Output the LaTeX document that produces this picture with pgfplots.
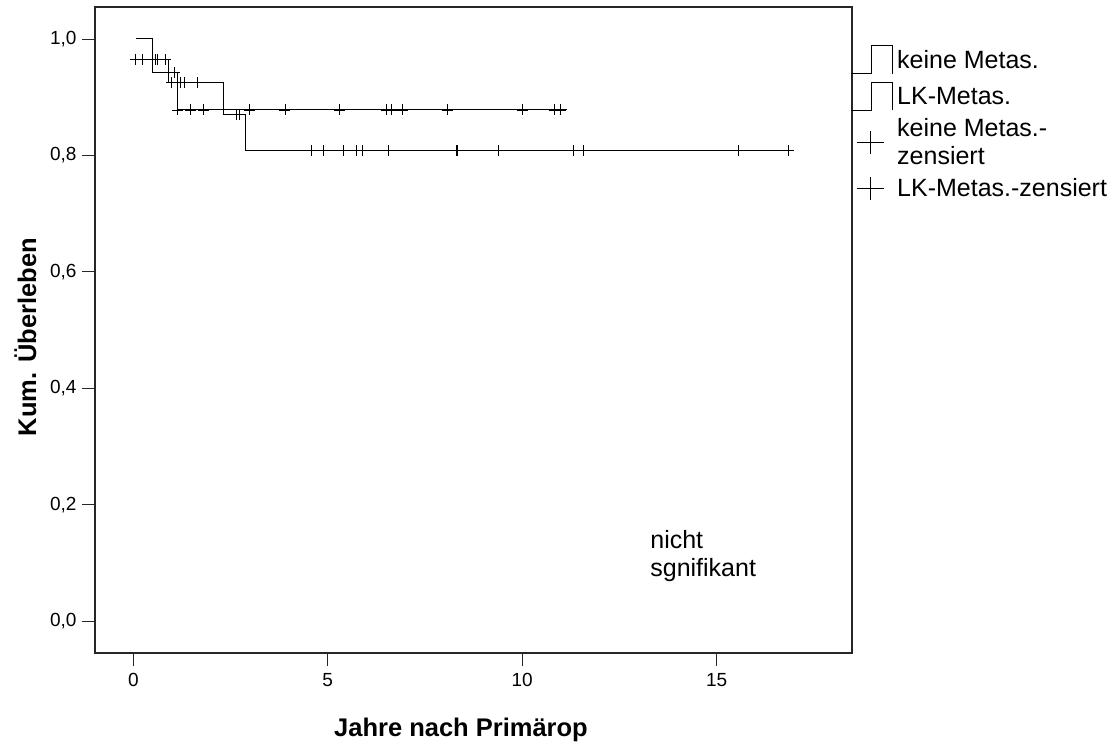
\documentclass[border=0pt]{standalone}
\usepackage{fontspec}
\setmainfont{Liberation Sans}
\usepackage{pgfplots}
\pgfplotsset{compat=1.18}
\begin{document}
\begin{tikzpicture}[x=1pt,y=1pt]
\path[use as bounding box] (0,0) rectangle (1114,746);
\begin{axis}[
  at={(95pt,93pt)}, anchor=south west,
  width=757pt, height=646pt, scale only axis,
  xmin=-0.985, xmax=18.48, ymin=-0.055, ymax=1.055,
  axis line style={line width=1.2pt, black!85},
  xtick={0,5,10,15}, xticklabels={0,5,10,15},
  ytick={0,0.2,0.4,0.6,0.8,1},
  yticklabels={{0,0},{0,2},{0,4},{0,6},{0,8},{1,0}},
  xtick pos=left, ytick pos=left,
  tick align=outside, major tick length=13pt,
  tick style={line width=0.8pt, black!85},
  tick label style={font=\fontsize{19}{19}\selectfont},
  xticklabel style={yshift=-4pt},
  yticklabel style={xshift=-2pt},
  xlabel={Jahre nach Primärop},
  ylabel={Kum. Überleben},
  label style={font=\bfseries\fontsize{25.5}{25.5}\selectfont},
  xlabel style={at={(axis description cs:0.4835,-0.130)}, anchor=base},
  ylabel style={at={(axis description cs:-0.0779,0.489)}, anchor=base},
  legend style={at={(axis description cs:0.99736,0.9404)}, anchor=north west,
    draw=none, fill=none, inner sep=0pt, outer sep=0pt,
    font=\fontsize{25}{28}\selectfont,
    cells={anchor=west, align=left},
    nodes={inner sep=0pt},
    row sep=8pt, column sep=4.5pt},
  legend cell align=left,
]
\addplot[const plot, black, line width=1pt,
  legend image code/.code={
    \path[draw=none, fill=none] (0pt,-14pt) rectangle (41.7pt,14pt);
    \draw[black, line width=1pt] (0pt,-13.8pt) -- (20.7pt,-13.8pt) -- (20.7pt,13.8pt) -- (41.7pt,13.8pt) -- (41.7pt,-13.8pt);}]
  coordinates {(0.07,1.0) (0.49,0.942) (1.14,0.878) (11.14,0.878)};
\addlegendentry{keine Metas.}
\addplot[const plot, black, line width=1pt,
  legend image code/.code={
    \path[draw=none, fill=none] (0pt,-14pt) rectangle (41.7pt,14pt);
    \draw[black, line width=1pt] (0pt,-13.8pt) -- (20.7pt,-13.8pt) -- (20.7pt,13.8pt) -- (41.7pt,13.8pt) -- (41.7pt,-13.8pt);}]
  coordinates {(0.0,0.9645) (0.90,0.925) (2.31,0.870) (2.89,0.808) (17.0,0.808)};
\addlegendentry{LK-Metas.}
\addplot[only marks, mark=+, mark size=5.5pt, mark options={black, line width=0.9pt},
  legend image code/.code={
    \path[draw=none, fill=none] (0pt,-14pt) rectangle (41.7pt,14pt);
    \draw[black, line width=1pt] (6.7pt,0pt) -- (33.3pt,0pt);
    \draw[black, line width=1pt] (20pt,-11.3pt) -- (20pt,11.3pt);}]
  coordinates {(1.07,0.942) (1.14,0.878) (1.48,0.878) (1.81,0.878) (2.98,0.878)
    (3.90,0.878) (5.31,0.878) (6.50,0.878) (6.64,0.878) (6.91,0.878)
    (8.07,0.878) (10.00,0.878) (10.82,0.878) (10.99,0.878)};
\addlegendentry{keine Metas.-\\zensiert}
\addplot[only marks, mark=+, mark size=5.5pt, mark options={black, line width=0.9pt},
  legend image code/.code={
    \path[draw=none, fill=none] (0pt,-14pt) rectangle (41.7pt,14pt);
    \draw[black, line width=1pt] (6.7pt,0pt) -- (33.3pt,0pt);
    \draw[black, line width=1pt] (20pt,-11.3pt) -- (20pt,11.3pt);}]
  coordinates {(0.06,0.9645) (0.23,0.9645) (0.56,0.9645) (0.63,0.9645) (0.82,0.9645)
    (0.99,0.925) (1.14,0.925) (1.21,0.925) (1.31,0.925) (1.66,0.925)
    (2.66,0.870) (2.73,0.870)
    (4.57,0.808) (4.90,0.808) (5.41,0.808) (5.74,0.808) (5.90,0.808) (6.57,0.808)
    (8.30,0.808) (8.34,0.808) (9.40,0.808) (11.33,0.808) (11.57,0.808)
    (15.57,0.808) (16.84,0.808)};
\addlegendentry{LK-Metas.-zensiert}
\node[anchor=base west, align=left, font=\fontsize{25}{28.3}\selectfont, inner sep=0pt]
  at (axis cs:13.29,0.0761) {nicht\\sgnifikant};
\end{axis}
\end{tikzpicture}
\end{document}
